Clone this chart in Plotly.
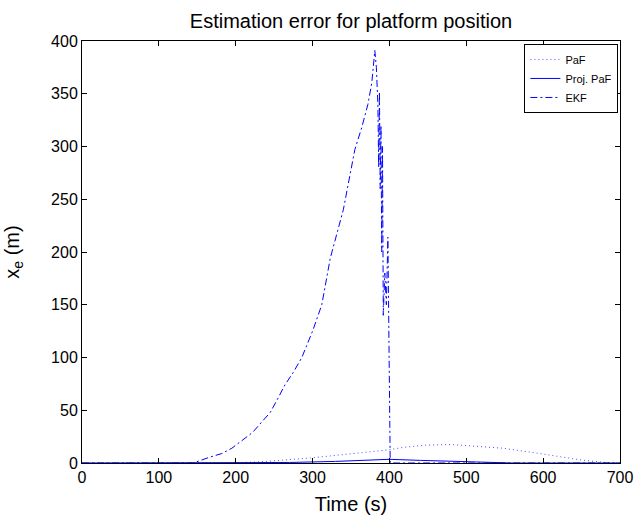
import plotly.graph_objects as go

# EKF estimation error (dash-dot)
ekf_t = [0, 140, 145, 164, 182, 195, 209, 222, 234, 245, 254, 264, 275, 286, 300,
         312, 323, 340, 355, 364, 372, 377, 381, 383, 385, 386, 387, 388, 389, 390,
         391, 392, 394, 396, 398, 400, 401, 700]
ekf_v = [0, 0, 0, 5, 9, 14, 22, 29, 39, 48, 60, 74, 86, 100, 125,
         150, 194, 240, 297, 318, 340, 360, 391, 375, 340, 280, 352, 260, 320, 200,
         300, 140, 180, 150, 214, 100, 0, 0]

# PaF estimation error (dotted)
paf_t = [0, 150, 200, 230, 260, 297, 340, 397, 420, 449, 480, 510, 548, 600, 648, 680, 700]
paf_v = [0, 0, 0.3, 1, 2.5, 4.7, 8, 12.3, 15, 17, 17.5, 16, 14, 8.5, 3, 0.5, 0]

# Projected PaF estimation error (solid)
proj_t = [0, 200, 270, 330, 380, 400, 440, 490, 530, 560, 700]
proj_v = [0, 0, 0.5, 1.5, 3, 3.5, 2.5, 1.5, 0.5, 0, 0]

x_ticks = [0, 100, 200, 300, 400, 500, 600, 700]
y_ticks = [0, 50, 100, 150, 200, 250, 300, 350, 400]

blue = "#0000ff"
fig = go.Figure()
fig.add_trace(go.Scatter(x=paf_t, y=paf_v, mode="lines", name="PaF",
                         line=dict(color="rgba(0,0,255,0.7)", width=1, dash="1px,3px")))
fig.add_trace(go.Scatter(x=proj_t, y=proj_v, mode="lines", name="Proj. PaF",
                         line=dict(color=blue, width=1)))
fig.add_trace(go.Scatter(x=ekf_t, y=ekf_v, mode="lines", name="EKF",
                         line=dict(color=blue, width=1, dash="7px,3px,2px,3px")))

font = "Liberation Sans, Arial, Helvetica, sans-serif"
axis_common = dict(showgrid=False, zeroline=False, showline=True, linecolor="black",
                   linewidth=1, mirror="ticks", ticks="inside", ticklen=5,
                   tickcolor="black", automargin=False,
                   tickfont=dict(size=16, color="black", family=font))
fig.update_layout(
    template="none",
    width=635, height=515, autosize=False,
    margin=dict(l=82, r=15, t=41, b=52),
    paper_bgcolor="white", plot_bgcolor="white",
    title=dict(text="Estimation error for platform position", x=0.5, xanchor="center",
               xref="paper", y=1 - 21 / 515, yanchor="middle",
               font=dict(size=20, color="black", family=font)),
    xaxis=dict(range=[0, 700], tickvals=x_ticks,
               title=dict(text="Time (s)", font=dict(size=20, color="black", family=font),
                          standoff=14),
               **axis_common),
    yaxis=dict(range=[0, 400], tickvals=y_ticks,
               title=dict(text="x<sub>e</sub> (m)", font=dict(size=20, color="black", family=font),
                          standoff=26),
               **axis_common),
    legend=dict(x=0.997, y=0.993, xanchor="right", yanchor="top",
                bordercolor="black", borderwidth=1, bgcolor="white",
                font=dict(size=11, color="black", family=font),
                itemwidth=30, tracegroupgap=0),
    showlegend=True,
)
fig.write_html("out.html",
               config={"responsive": False, "displayModeBar": False},
               default_width="635px", default_height="515px",
               post_script="document.body.style.margin='0';document.body.style.overflow='hidden';")
